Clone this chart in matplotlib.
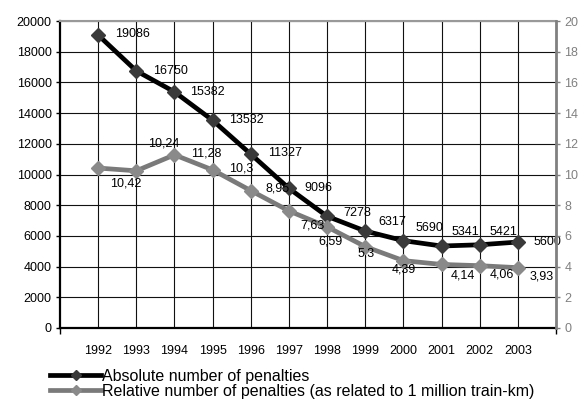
import numpy as np
import matplotlib
matplotlib.use("Agg")
import matplotlib.pyplot as plt
from matplotlib.lines import Line2D

plt.rcParams['font.family'] = ['Liberation Sans', 'DejaVu Sans']

years = ['1992', '1993', '1994', '1995', '1996', '1997',
         '1998', '1999', '2000', '2001', '2002', '2003']
absolute = [19086, 16750, 15382, 13532, 11327, 9096,
            7278, 6317, 5690, 5341, 5421, 5600]
relative = [10.42, 10.24, 11.28, 10.3, 8.95, 7.63,
            6.59, 5.3, 4.39, 4.14, 4.06, 3.93]

# label offsets in pixels (dx, dy), dy positive = up
abs_off = [(34, 1), (34, 0), (33, 0), (34, 0), (34, 1), (29, 0),
           (30, 3), (27, 9), (26, 13), (24, 14), (24, 13), (30, 0)]
rel_off = [(28, -15), (27, 27), (32, 1), (29, 1), (27, 2), (24, -15),
           (3, -15), (1, -7), (0, -9), (21, -11), (22, -9), (24, -9)]

fig = plt.figure(figsize=(5.79, 3.99), dpi=100)
ax = fig.add_axes([60/579, (399-328)/399, (556-60)/579, (328-21)/399])
ax2 = ax.twinx()

x = np.arange(len(years))

ax.plot(x, absolute, color='black', lw=3.4, marker='D', ms=7,
        mfc='#3a3a3a', mec='#3a3a3a', zorder=5, clip_on=False)
ax2.plot(x, relative, color='#7a7a7a', lw=3.4, marker='D', ms=7,
         mfc='#8a8a8a', mec='#8a8a8a', zorder=4, clip_on=False)

for xi, v, (dx, dy) in zip(x, absolute, abs_off):
    ax.annotate(str(v), (xi, v), xytext=(dx, dy), textcoords='offset pixels',
                ha='center', va='center', fontsize=9, zorder=6)
for xi, v, (dx, dy) in zip(x, relative, rel_off):
    ax2.annotate(f"{v:g}".replace('.', ','), (xi, v), xytext=(dx, dy),
                 textcoords='offset pixels', ha='center', va='center',
                 fontsize=9, zorder=6)

ax.set_xlim(-1, 12)
ax.set_ylim(0, 20000)
ax2.set_ylim(0, 20)
ax.set_yticks(np.arange(0, 20001, 2000))
ax2.set_yticks(np.arange(0, 21, 2))

ax.set_xticks(x)
ax.set_xticklabels(years, fontsize=9)
ax.set_xticks(np.arange(-1, 13), minor=True)
ax.tick_params(axis='x', which='major', length=0, pad=12)
ax.tick_params(axis='x', which='minor', length=4, width=1, direction='out')
ax.tick_params(axis='y', labelsize=9, length=3, width=1, pad=3)
ax2.tick_params(axis='y', labelsize=9, length=3, width=1, pad=3,
                colors='#808080')

ax.grid(True, which='major', color='#111111', lw=0.8)
ax.set_axisbelow(True)

for sp in ['left', 'bottom']:
    ax.spines[sp].set_color('black')
    ax.spines[sp].set_linewidth(1.6)
ax.spines['top'].set_color('#999999')
ax.spines['top'].set_linewidth(1.5)
for sp in ['left', 'bottom', 'top']:
    ax2.spines[sp].set_visible(False)
ax2.spines['right'].set_color('#808080')
ax2.spines['right'].set_linewidth(2)
ax.spines['right'].set_visible(False)

handles = [
    Line2D([], [], color='black', lw=3.4, marker='D', ms=5,
           mfc='#3a3a3a', mec='#3a3a3a'),
    Line2D([], [], color='#7a7a7a', lw=3.4, marker='D', ms=5,
           mfc='#8a8a8a', mec='#8a8a8a'),
]
labels = ['Absolute number of penalties',
          'Relative number of penalties (as related to 1 million train-km)']
fig.legend(handles, labels, loc='upper left',
           bbox_to_anchor=(50/579, 1 - 369/399), frameon=False,
           fontsize=11.5, handlelength=3.2, handletextpad=0.05,
           labelspacing=0.0, borderpad=0, borderaxespad=0)

fig.savefig('out.png', dpi=100)
